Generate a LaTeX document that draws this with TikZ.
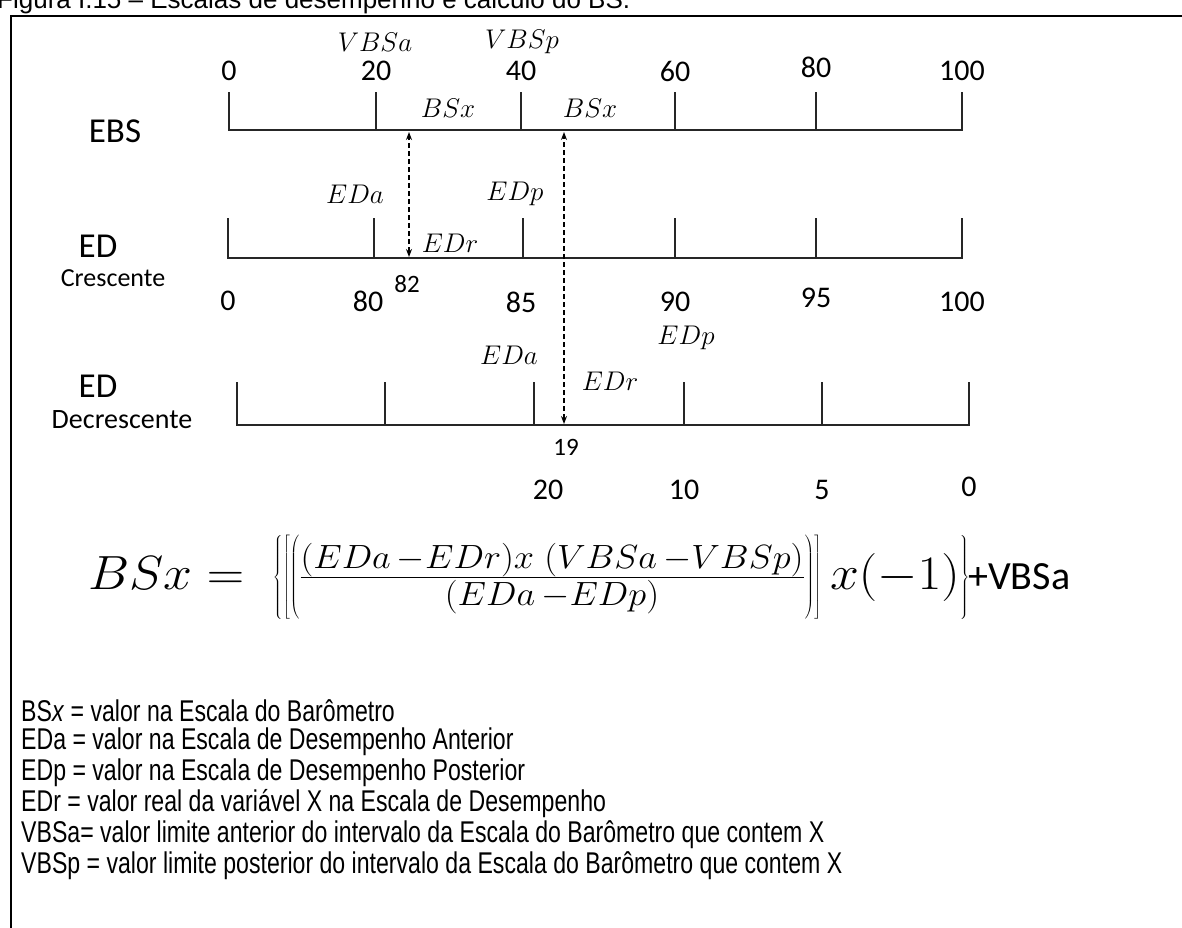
\RequirePackage{fix-cm}
\documentclass[tikz,border=0pt]{standalone}
\usepackage{fontspec}
\setmainfont{Carlito}
\newfontfamily\arialf{Liberation Sans}
\usetikzlibrary{arrows.meta}
\newcommand{\fstrut}{\rule[-32pt]{0pt}{66pt}}
\begin{document}
\begin{tikzpicture}[x=1pt,y=-1pt,
  scaleline/.style={line width=2.4pt,draw=black!85,line join=miter},
  numlbl/.style={inner sep=0pt,font=\fontsize{30}{34}\selectfont},
  smallnum/.style={inner sep=0pt,font=\fontsize{25}{28}\selectfont},
  varlbl/.style={inner sep=0pt,font=\fontsize{27}{30}\selectfont},
  biglbl/.style={inner sep=0pt,font=\fontsize{35}{40}\selectfont},
  sublbl/.style={inner sep=0pt,font=\fontsize{26}{28}\selectfont},
  dasharrow/.style={line width=1.5pt,dash pattern=on 5pt off 3pt,{Stealth[length=8pt,width=6pt]}-{Stealth[length=8pt,width=6pt]}},
  legend/.style={anchor=west,inner sep=0pt,font=\arialf\fontsize{30}{34}\selectfont}]
\useasboundingbox (0,0) rectangle (1182,927);
\fill[white] (0,0) rectangle (1182,927);
% caption (cut at top)
\node[anchor=base west,inner sep=0pt,font=\arialf\fontsize{26}{30}\selectfont] (cap) at (-3,8) {Figura I.15 – Escalas de desempenho e cálculo do BS.};
% frame
\draw[line width=2pt] (11,935) -- (11,16) -- (1190,16);

% ---------- EBS scale ----------
\foreach \n/\x in {a/229,b/376,c/521,d/675,e/816,f/962}{
  \coordinate (e\n) at (\x,130);
  \coordinate (e\n t) at (\x,92);
}
\draw[scaleline] (eat) -- (ea) -- (ef) -- (eft);
\foreach \n in {b,c,d,e}{\draw[scaleline] (e\n t) -- (e\n);}
\node[biglbl] (lEBS) at (115,131) {EBS};
\node[numlbl] (n0) at (229,71) {0};
\node[numlbl] (n20) at (376,71) {20};
\node[numlbl] (n40) at (521,71) {40};
\node[numlbl] (n60) at (675,71) {60};
\node[numlbl] (n80) at (816,67) {80};
\node[numlbl] (n100) at (962,71) {100};
\node[varlbl] (vbsa) at (375,42) {$VBSa$};
\node[varlbl] (vbsp) at (522,42) {$VBSp$};
\node[varlbl] (bsx1) at (448,108) {$BSx$};
\node[varlbl] (bsx2) at (590,108) {$BSx$};

% ---------- ED crescente ----------
\foreach \n/\x in {a/228,b/374,c/523,d/675,e/816,f/962}{
  \coordinate (c\n) at (\x,258);
  \coordinate (c\n t) at (\x,218);
}
\draw[scaleline] (cat) -- (ca) -- (cf) -- (cft);
\foreach \n in {b,c,d,e}{\draw[scaleline] (c\n t) -- (c\n);}
\node[biglbl] (lED1) at (98,246) {ED};
\node[sublbl] (lcre) at (113,278) {Crescente};
\node[varlbl] (cEDa) at (355,194) {$EDa$};
\node[varlbl] (cEDp) at (515,194) {$EDp$};
\node[varlbl] (cEDr) at (450,243) {$EDr$};
\node[numlbl] (c0) at (228,301) {0};
\node[numlbl] (c80) at (368,301) {80};
\node[smallnum] (c82) at (407,284) {82};
\node[numlbl] (c85) at (521,302) {85};
\node[numlbl] (c90) at (675,302) {90};
\node[numlbl] (c95) at (816,298) {95};
\node[numlbl] (c100) at (962,302) {100};

% ---------- ED decrescente ----------
\foreach \n/\x in {a/237,b/385,c/534,d/684,e/822,f/969}{
  \coordinate (d\n) at (\x,425);
  \coordinate (d\n t) at (\x,382);
}
\draw[scaleline] (dat) -- (da) -- (df) -- (dft);
\foreach \n in {b,c,d,e}{\draw[scaleline] (d\n t) -- (d\n);}
\node[biglbl] (lED2) at (98,386) {ED};
\node[sublbl,font=\fontsize{28}{30}\selectfont] (ldec) at (122,420) {Decrescente};
\node[varlbl] (dEDa) at (509,355) {$EDa$};
\node[varlbl] (dEDp) at (686,338) {$EDp$};
\node[varlbl] (dEDr) at (610,381) {$EDr$};
\node[smallnum] (d19) at (566,447) {19};
\node[numlbl] (d20) at (548,490) {20};
\node[numlbl] (d10) at (684,490) {10};
\node[numlbl] (d5) at (822,490) {5};
\node[numlbl] (d0) at (969,487) {0};

% ---------- dashed arrows ----------
\coordinate (a1top) at (409,132);
\coordinate (a1bot) at (409,257);
\coordinate (a2top) at (564,132);
\coordinate (a2bot) at (564,424);
\draw[dasharrow] (a1bot) -- (a1top);
\draw[dasharrow] (a2bot) -- (a2top);

% ---------- formula ----------
\node[anchor=west,inner sep=0pt,font=\fontsize{48}{54}\selectfont] (formula) at (88,578)
 {\scalebox{1.08}[1]{$BSx=\;\left\{\left[\left(\fstrut\textstyle\frac{(EDa\,-EDr)x\;(VBSa\,-VBSp)}{(EDa\,-EDp)}\right)\right]x(-1)\right\}$}\kern-1pt{\fontsize{40}{42}\selectfont+VBSa}};

% ---------- legend ----------
\node[legend] (l1) at (21,711) {\scalebox{0.77}[1]{BS\textit{x} = valor na Escala do Barômetro}};
\node[legend] (l2) at (21,742) {\scalebox{0.77}[1]{EDa = valor na Escala de Desempenho Anterior}};
\node[legend] (l3) at (21,773) {\scalebox{0.77}[1]{EDp = valor na Escala de Desempenho Posterior}};
\node[legend] (l4) at (21,804) {\scalebox{0.77}[1]{EDr = valor real da variável X na Escala de Desempenho}};
\node[legend] (l5) at (21,835) {\scalebox{0.77}[1]{VBSa= valor limite anterior do intervalo da Escala do Barômetro que contem X}};
\node[legend] (l6) at (21,866) {\scalebox{0.77}[1]{VBSp = valor limite posterior do intervalo da Escala do Barômetro que contem X}};
\end{tikzpicture}
\end{document}
